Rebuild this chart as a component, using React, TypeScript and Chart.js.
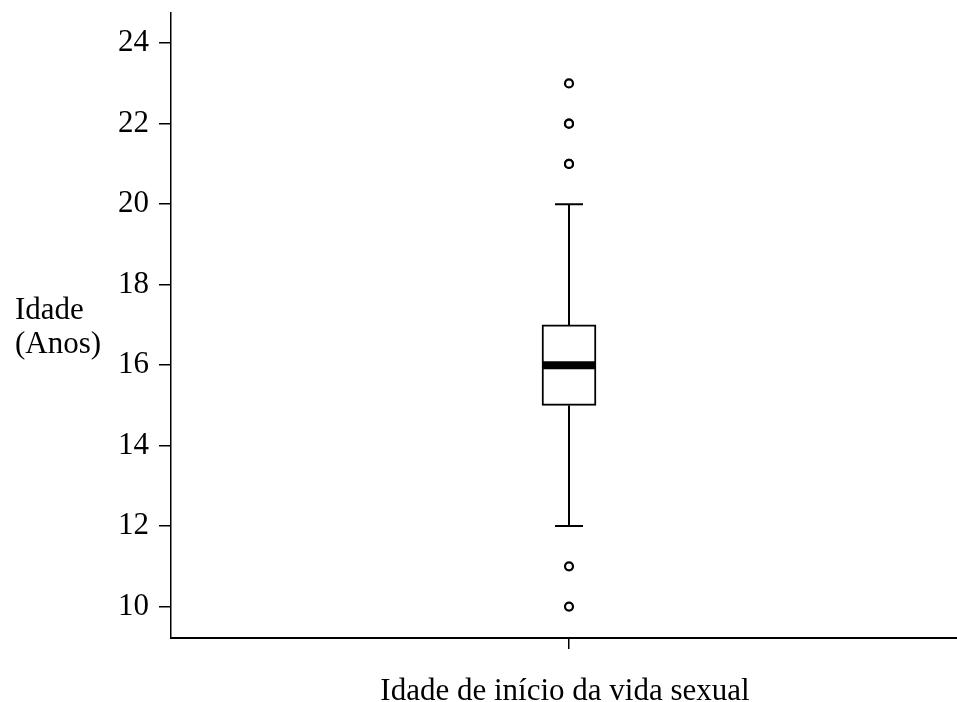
import React, { useEffect, useRef } from "react";
import { Chart, registerables } from "chart.js";

Chart.register(...registerables);

const categories = ["Idade de início da vida sexual"];
const boxQ1 = [15];
const boxQ3 = [17];
const medians = [16];
const whiskerMin = [12];
const whiskerMax = [20];
const outliers = [23, 22, 22, 21, 21, 11, 10];
const yTickValues = [10, 12, 14, 16, 18, 20, 22, 24];
const yTitleLines = ["Idade", "(Anos)"];

const FONT = "'Liberation Serif', 'Times New Roman', serif";
const FS = 31;

const boxPlugin = {
  id: "boxExtras",
  afterDatasetsDraw(chart: any) {
    const { ctx, scales } = chart;
    const x = scales.x;
    const y = scales.y;
    categories.forEach((c, i) => {
      const cx = x.getPixelForValue(i);
      const half = 27;
      const capHalf = 14;
      ctx.save();
      ctx.strokeStyle = "#000";
      ctx.lineWidth = 2;
      ctx.beginPath();
      ctx.moveTo(cx, y.getPixelForValue(boxQ3[i]));
      ctx.lineTo(cx, y.getPixelForValue(whiskerMax[i]));
      ctx.moveTo(cx, y.getPixelForValue(boxQ1[i]));
      ctx.lineTo(cx, y.getPixelForValue(whiskerMin[i]));
      ctx.stroke();
      ctx.beginPath();
      ctx.moveTo(cx - capHalf, y.getPixelForValue(whiskerMax[i]));
      ctx.lineTo(cx + capHalf, y.getPixelForValue(whiskerMax[i]));
      ctx.moveTo(cx - capHalf, y.getPixelForValue(whiskerMin[i]));
      ctx.lineTo(cx + capHalf, y.getPixelForValue(whiskerMin[i]));
      ctx.stroke();
      ctx.lineWidth = 8;
      ctx.beginPath();
      ctx.moveTo(cx - half, y.getPixelForValue(medians[i]));
      ctx.lineTo(cx + half, y.getPixelForValue(medians[i]));
      ctx.stroke();
      ctx.restore();
    });
  },
  afterDraw(chart: any) {
    const { ctx, scales } = chart;
    ctx.save();
    ctx.fillStyle = "#000";
    ctx.font = `${FS}px ${FONT}`;
    ctx.textBaseline = "alphabetic";
    ctx.textAlign = "left";
    ctx.fillText(yTitleLines[0], 15, 319);
    ctx.fillText(yTitleLines[1], 15, 353);
    ctx.textAlign = "center";
    ctx.fillText(categories[0], scales.x.getPixelForValue(0) - 4, 700);
    ctx.restore();
  },
};

export default function App() {
  const ref = useRef<HTMLCanvasElement>(null);
  useEffect(() => {
    const chart = new Chart(ref.current as HTMLCanvasElement, {
      type: "bar",
      data: {
        labels: categories,
        datasets: [
          {
            type: "bar",
            data: categories.map((_, i) => [boxQ1[i], boxQ3[i]]) as any,
            backgroundColor: "#fff",
            borderColor: "#000",
            borderWidth: 2,
            borderSkipped: false,
            barThickness: 54,
          } as any,
          {
            type: "line",
            data: outliers.map((v) => ({ x: categories[0], y: v })) as any,
            showLine: false,
            pointRadius: 4,
            pointBorderWidth: 2.2,
            pointBackgroundColor: "#fff",
            pointBorderColor: "#000",
            pointStyle: "circle",
          } as any,
        ],
      },
      plugins: [boxPlugin],
      options: {
        animation: false,
        responsive: true,
        maintainAspectRatio: false,
        layout: { autoPadding: false, padding: { top: 13, left: 0, right: 0, bottom: 0 } },
        plugins: {
          legend: { display: false },
          tooltip: { enabled: false },
          title: { display: false },
        },
        scales: {
          x: {
            type: "category",
            offset: true,
            grid: {
              offset: false,
              drawOnChartArea: false,
              drawTicks: true,
              tickLength: 11,
              color: "#000",
              lineWidth: 1.5,
            },
            border: { display: true, color: "#000", width: 2 },
            ticks: { callback: () => "", padding: 0 },
            afterFit: (s: any) => {
              s.height = 64;
              s.paddingLeft = 0;
              s.paddingRight = 0;
            },
          },
          y: {
            type: "linear",
            min: 9.22,
            max: 24.75,
            afterBuildTicks: (s: any) => {
              s.ticks = yTickValues.map((v) => ({ value: v }));
            },
            afterFit: (s: any) => {
              s.width = 171;
              s.paddingTop = 0;
              s.paddingBottom = 0;
            },
            grid: {
              drawOnChartArea: false,
              drawTicks: true,
              tickLength: 12,
              color: "#000",
              lineWidth: 1.5,
            },
            border: { display: true, color: "#000", width: 1.5 },
            ticks: {
              color: "#000",
              padding: 10,
              font: { family: FONT, size: FS },
            },
          },
        },
      },
    });
    return () => chart.destroy();
  }, []);
  return (
    <div style={{ position: "fixed", left: 0, top: 0, width: 967, height: 702, background: "#fff" }}>
      <canvas ref={ref} />
    </div>
  );
}
